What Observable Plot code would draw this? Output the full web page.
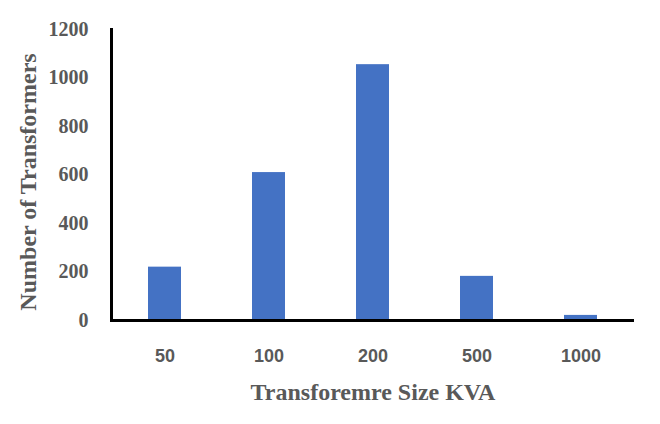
<!DOCTYPE html>
<html>
<head>
<meta charset="utf-8">
<script src="https://cdn.jsdelivr.net/npm/d3@7"></script>
<script src="https://cdn.jsdelivr.net/npm/@observablehq/plot@0.6"></script>
<style>
  html, body { margin: 0; padding: 0; background: #fff; }
</style>
</head>
<body>
<div id="chart"></div>
<script>
const sizes = ["50", "100", "200", "500", "1000"];
const counts = [220, 610, 1055, 182, 21];
const yTicks = [0, 200, 400, 600, 800, 1000, 1200];
const xTitle = "Transforemre Size KVA";
const yTitle = "Number of Transformers";

const data = sizes.map((s, i) => ({size: s, count: counts[i]}));
const titleFont = {fontFamily: "Liberation Serif", fontWeight: "bold", fontSize: 24, fill: "#595959"};

const chart = Plot.plot({
  width: 660,
  height: 424,
  marginLeft: 111,
  marginRight: 26,
  marginTop: 29,
  marginBottom: 104,
  style: {background: "#fff", overflow: "visible"},
  x: {domain: sizes, paddingInner: 0.68, paddingOuter: 0.34, label: null},
  y: {domain: [0, 1200], label: null},
  marks: [
    Plot.barY(data, {x: "size", y: "count", fill: "#4472C4"}),
    Plot.axisY({
      ticks: yTicks, tickSize: 0, tickPadding: 23, tickFormat: d => String(d),
      fontFamily: "Liberation Serif", fontWeight: "bold", fontSize: 20, fill: "#595959",
      label: null
    }),
    Plot.axisX({
      tickSize: 0, tickPadding: 29,
      fontFamily: "Liberation Sans", fontWeight: "bold", fontSize: 18, fill: "#595959",
      label: null
    }),
    Plot.text([yTitle], {frameAnchor: "left", rotate: -90, dx: -83, dy: 7, textAnchor: "middle", lineAnchor: "middle", ...titleFont}),
    Plot.text([xTitle], {frameAnchor: "bottom", dy: 72, textAnchor: "middle", lineAnchor: "middle", ...titleFont}),
    Plot.frame({anchor: "left", stroke: "#000", strokeWidth: 3}),
    Plot.ruleY([0], {stroke: "#000", strokeWidth: 3})
  ]
});
document.getElementById("chart").appendChild(chart);
</script>
</body>
</html>
